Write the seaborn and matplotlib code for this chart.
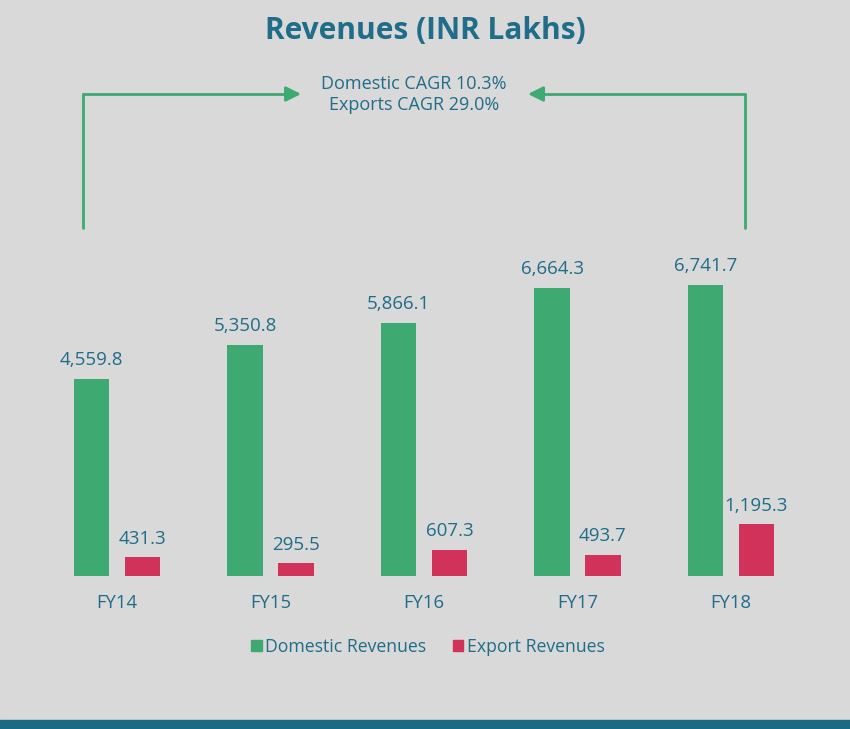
import pandas as pd
import seaborn as sns
import matplotlib.pyplot as plt
from matplotlib.patches import Rectangle

years = ['FY14', 'FY15', 'FY16', 'FY17', 'FY18']
domestic = [4559.8, 5350.8, 5866.1, 6664.3, 6741.7]
exports = [431.3, 295.5, 607.3, 493.7, 1195.3]
series = ['Domestic Revenues', 'Export Revenues']
cagr_lines = ['Domestic CAGR 10.3%', 'Exports CAGR 29.0%']

bg = '#d9d9d9'
teal = '#1f6d88'
green = '#3ea970'
red = '#d0325a'

sns.set_style('white')
plt.rcParams['font.family'] = ['Open Sans', 'DejaVu Sans']

df = pd.DataFrame({
    'year': years * 2,
    'value': domestic + exports,
    'series': [series[0]] * len(years) + [series[1]] * len(years),
})

fig = plt.figure(figsize=(8.5, 7.29), dpi=100, facecolor=bg)
ax = fig.add_axes([0, 153 / 729, 1, 1 - 153 / 729])
ax.set_facecolor(bg)

sns.barplot(data=df, x='year', y='value', hue='series', palette=[green, red],
            width=0.664, gap=0.295, linewidth=0, saturation=1, ax=ax, legend=False)

for cont in ax.containers:
    ax.bar_label(cont, labels=[f'{v:,.1f}' for v in cont.datavalues],
                 padding=7, color=teal, fontsize=13.5)

ax.set_xlim(-117 / 153.5, (850 - 117) / 153.5)
ax.set_ylim(0, 576 / 0.0432)
ax.set_xlabel('')
ax.set_ylabel('')
ax.set_yticks([])
ax.tick_params(axis='x', length=0, pad=13, labelsize=13.3, labelcolor=teal)
sns.despine(ax=ax, left=True, bottom=True, top=True, right=True)

# title and CAGR note
fig.text(0.5, 1 - 31 / 729, 'Revenues (INR Lakhs)', ha='center', va='center',
         fontsize=21.5, fontweight='bold', color=teal)
fig.text(414 / 850, 1 - 84 / 729, cagr_lines[0], ha='center', va='center',
         fontsize=13, color=teal)
fig.text(414 / 850, 1 - 105 / 729, cagr_lines[1], ha='center', va='center',
         fontsize=13, color=teal)

# bracket arrows
def px(x, y):
    return (x / 850, 1 - y / 729)

for x0, x1 in [(83, 301), (745, 528)]:
    fig.add_artist(plt.Line2D([px(x0, 228)[0], px(x0, 94)[0]],
                              [px(x0, 228)[1], px(x0, 94)[1]],
                              color=green, lw=2, transform=fig.transFigure))
    fig.add_artist(plt.Line2D([px(x0, 94)[0], px(x1 - (12 if x1 > x0 else -12), 94)[0]],
                              [px(x0, 94)[1], px(x0, 94)[1]],
                              color=green, lw=2, transform=fig.transFigure))
    ax.annotate('', xy=px(x1, 94), xycoords='figure fraction',
                xytext=px(x1 - (14 if x1 > x0 else -14), 94), textcoords='figure fraction',
                arrowprops=dict(arrowstyle='-|>,head_length=0.9,head_width=0.45',
                                color=green, lw=2, shrinkA=0, shrinkB=0))

# legend
handles = [Rectangle((0, 0), 1, 1, color=c) for c in [green, red]]
fig.legend(handles, series, loc='center', bbox_to_anchor=(428 / 850, 1 - 647 / 729),
           ncol=2, frameon=False, fontsize=12.7, labelcolor=teal,
           handlelength=0.6, handleheight=0.6, handletextpad=0.2, columnspacing=1.5)

# bottom band
fig.add_artist(Rectangle((0, 0), 1, 9 / 729, color='#1a6a85', transform=fig.transFigure))

fig.savefig('out.png', dpi=100, facecolor=bg)
